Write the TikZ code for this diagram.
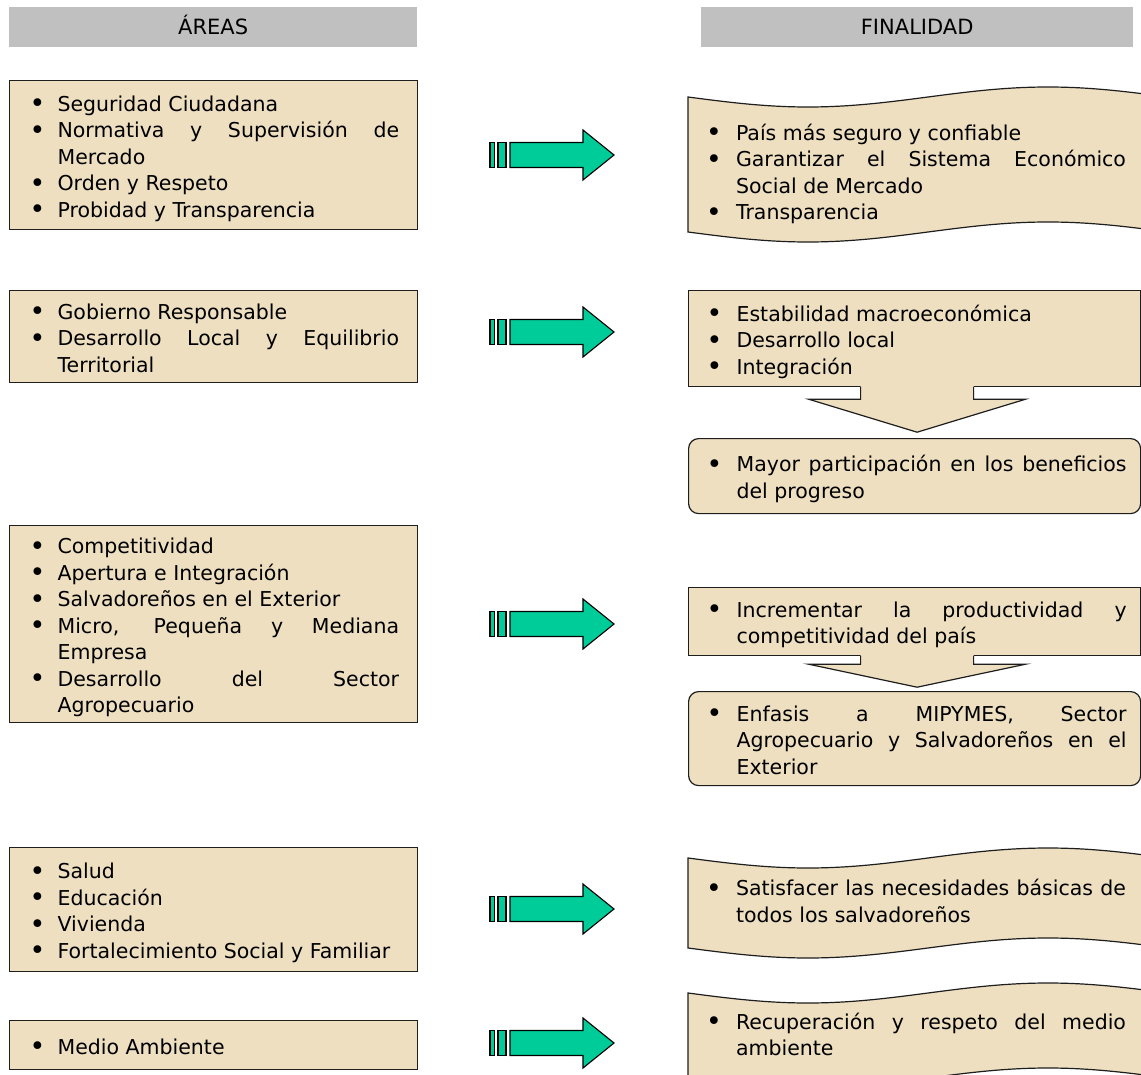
\documentclass[tikz,border=0pt]{standalone}
\usepackage{fontspec}
\setmainfont{DejaVu Sans}
\usetikzlibrary{calc}
\definecolor{parch}{RGB}{237,223,192}
\definecolor{hdrgray}{RGB}{192,192,192}
\definecolor{arrgreen}{RGB}{0,204,153}
\definecolor{edge}{RGB}{30,30,30}
\newcommand{\bodyfont}{\fontsize{20.5}{26.5}\selectfont\tolerance=10000\emergencystretch=20pt}
\newcommand{\hdrfont}{\fontsize{21}{25}\selectfont}
\newcommand{\tstrut}{\vrule height 19.5pt depth 0pt width 0pt}
\newcommand{\bstrut}{\vrule height 0pt depth 8.5pt width 0pt}
\newcommand{\bigbullet}{\raisebox{-1.5pt}{\scalebox{1.3}{\textbullet}}}
\newcommand{\bitem}[2][29.5pt]{\par\noindent\hangindent=#1\hangafter=1\makebox[#1][l]{\hspace{1.5pt}\bigbullet}#2\par}
\newcommand{\ritem}[1]{\par\noindent\hangindent=34pt\hangafter=1\makebox[34pt][l]{\hspace{4pt}\bigbullet}#1\par}
\newcommand{\greenarrow}[1]{%
  \begin{scope}[shift={(#1)}]
    \draw[garrow] (0,-12.5) rectangle (4.5,12.5);
    \draw[garrow] (8,-12.5) rectangle (16,12.5);
    \draw[garrow] (20,-12.5) -- (93,-12.5) -- (93,-25) -- (124,0) -- (93,25) -- (93,12.5) -- (20,12.5) -- cycle;
  \end{scope}}
\newcommand{\blockdown}[3]{% node, shaft length, head length
  \coordinate (#1x) at ($(#1.south)+(2.5,0)$);
  \begin{scope}[shift={(#1x)}]
    \fill[parch] (-56.5,-1.5) -- (-56.5,#2) -- (-108.5,#2) -- (0,#2+#3) -- (108.5,#2) -- (56.5,#2) -- (56.5,-1.5) -- cycle;
    \draw[darrowline] (-56.5,0) -- (-56.5,#2) -- (-108.5,#2) -- (0,#2+#3) -- (108.5,#2) -- (56.5,#2) -- (56.5,0);
  \end{scope}}
\newcommand{\wave}[3]{% top-left y, height, amplitude
  \draw[wavebox] plot[domain=688:1143, samples=80, variable=\t] (\t,{#1+#3*sin(0.75*(\t-688))})
     -- plot[domain=1143:688, samples=80, variable=\t] (\t,{#1+#2+#3*sin(0.75*(\t-688))}) -- cycle;}
\tikzset{
  box/.style={draw=edge, line width=1.2pt, fill=parch, inner ysep=0pt, font=\bodyfont, align=justify},
  leftbox/.style={box, anchor=north west, text width=371pt, inner xsep=18.5pt, minimum width=408pt},
  rightbox/.style={box, anchor=north west, text width=424pt, inner xsep=14pt, minimum width=452pt},
  rbox/.style={rightbox, rounded corners=10pt},
  hdr/.style={fill=hdrgray, anchor=north west, inner xsep=0pt, font=\hdrfont, minimum height=40pt, text height=15.3pt, text depth=0pt},
  wavebox/.style={draw=edge, line width=1.2pt, fill=parch},
  wavetext/.style={font=\bodyfont, text width=424pt, align=justify, inner sep=0pt},
  garrow/.style={draw=black, line width=1.1pt, fill=arrgreen, line join=miter},
  darrowline/.style={draw=edge, line width=1.2pt, line join=miter}
}
\begin{document}
\begin{tikzpicture}[x=1pt,y=-1pt]
\useasboundingbox[fill=white] (0,0) rectangle (1141,1075);
% headers
\node[hdr, minimum width=408pt] (hA) at (9,7) {ÁREAS};
\node[hdr, minimum width=432pt] (hF) at (701,7) {FINALIDAD};
% left boxes
\node[leftbox, minimum height=149pt] (L1) at (9,80) {%
  \bitem{\tstrut Seguridad Ciudadana}
  \bitem{Normativa y Supervisión de\linebreak Mercado}
  \bitem{Orden y Respeto}
  \bitem{Probidad y Transparencia\bstrut}};
\node[leftbox, minimum height=92pt] (L2) at (9,290) {%
  \bitem{\tstrut Gobierno Responsable}
  \bitem{Desarrollo Local y Equilibrio\linebreak Territorial\bstrut}};
\node[leftbox, minimum height=197pt] (L3) at (9,525) {%
  \bitem{\tstrut Competitividad}
  \bitem{Apertura e Integración}
  \bitem{Salvadoreños en el Exterior}
  \bitem{Micro, Pequeña y Mediana\linebreak Empresa}
  \bitem{Desarrollo del Sector\linebreak Agropecuario\bstrut}};
\node[leftbox, minimum height=124pt] (L4) at (9,847) {%
  \bitem{\tstrut Salud}
  \bitem{Educación}
  \bitem{Vivienda}
  \bitem{Fortalecimiento Social y Familiar\bstrut}};
\node[leftbox, minimum height=49pt] (L5) at (9,1020) {%
  \bitem{\tstrut Medio Ambiente\bstrut}};
% right side
\wave{97}{135}{10}
\node[wavetext] (W1) at (914,171) {%
  \ritem{\tstrut País más seguro y confiable}
  \ritem{Garantizar el Sistema Económico\linebreak Social de Mercado}
  \ritem{Transparencia\bstrut}};
\node[rightbox, minimum height=96pt] (R2) at (688,290) {%
  \ritem{\tstrut Estabilidad macroeconómica}
  \ritem{Desarrollo local}
  \ritem{Integración\bstrut}};
\node[rbox, minimum height=75pt] (R3) at (688,438) {%
  \ritem{\tstrut Mayor participación en los beneficios\linebreak del progreso\bstrut}};
\blockdown{R2}{12}{33}
\node[rightbox, minimum height=68pt] (R4) at (688,587) {%
  \ritem{\tstrut Incrementar la productividad y\linebreak competitividad del país\bstrut}};
\node[rbox, minimum height=94pt] (R5) at (688,691) {%
  \ritem{\tstrut Enfasis a MIPYMES, Sector\linebreak Agropecuario y Salvadoreños en el\linebreak Exterior\bstrut}};
\blockdown{R4}{8}{23}
\wave{858}{90}{10}
\node[wavetext] (W6) at (914,900) {%
  \ritem{\tstrut Satisfacer las necesidades básicas de\linebreak todos los salvadoreños\bstrut}};
\wave{993}{85}{10}
\node[wavetext] (W7) at (914,1033.5) {%
  \ritem{\tstrut Recuperación y respeto del medio\linebreak ambiente\bstrut}};
% green arrows
\coordinate (g1) at (490,155);
\coordinate (g2) at (490,332);
\coordinate (g3) at (490,624);
\coordinate (g4) at (490,909);
\coordinate (g5) at (490,1043);
\greenarrow{g1}
\greenarrow{g2}
\greenarrow{g3}
\greenarrow{g4}
\greenarrow{g5}
\end{tikzpicture}
\end{document}
